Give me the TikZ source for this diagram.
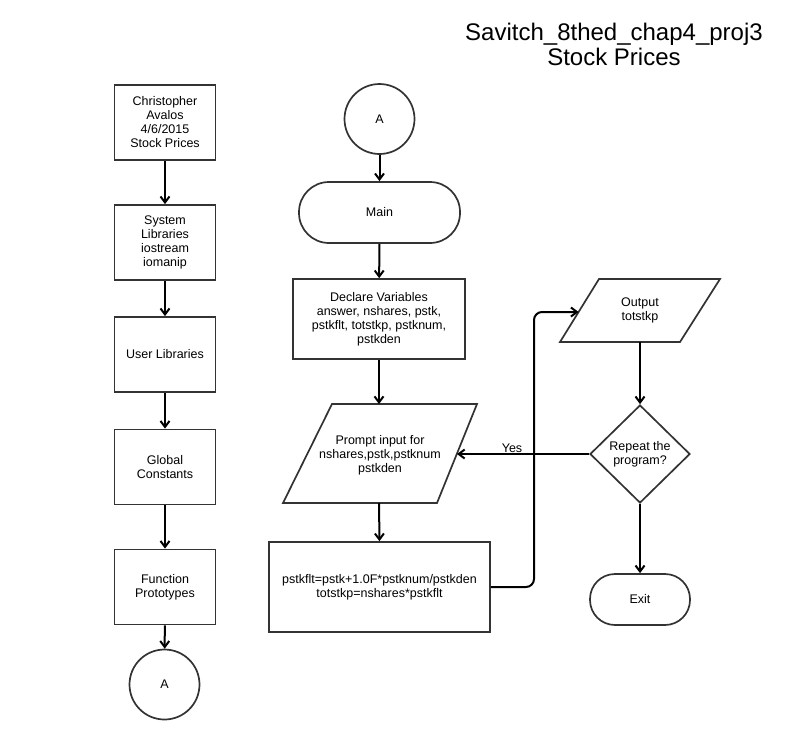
\documentclass[tikz,border=0pt]{standalone}
\usepackage{fontspec}
\setmainfont{Liberation Sans}
\usetikzlibrary{arrows.meta,shapes.geometric}
\begin{document}
\begin{tikzpicture}[x=1pt,y=-1pt,
  shapeline/.style={draw=black!80,line width=1.7pt},
  txt/.style={font=\fontsize{12.5}{14}\selectfont,align=center,text=black},
  procbox/.style={shapeline,txt,rectangle,minimum width=101pt,minimum height=75pt,inner sep=0pt},
  termbox/.style={shapeline,txt,rectangle,inner sep=0pt},
  connector/.style={shapeline,txt,circle,minimum size=70pt,inner sep=0pt},
  flow/.style={line width=2pt,draw=black,-{Straight Barb[length=6pt,width=9pt]}}]
\useasboundingbox[fill=white] (0,0) rectangle (798,740);

% title
\node[font=\fontsize{24}{24.5}\selectfont,align=center] (title) at (614,44.5) {Savitch\_8thed\_chap4\_proj3\\Stock Prices};

% left column
\node[procbox] (auth) at (165,122.5) {Christopher\\Avalos\\4/6/2015\\Stock Prices};
\node[procbox] (syslib) at (165,242.5) {System\\Libraries\\iostream\\iomanip};
\node[procbox] (usrlib) at (165,354.5) {User Libraries};
\node[procbox] (glob) at (165,467) {Global\\Constants};
\node[procbox] (func) at (165,587) {Function\\Prototypes};
\node[connector] (aout) at (164.5,684.5) {A};

\draw[flow] (auth) -- (syslib);
\draw[flow] (syslib) -- (usrlib);
\draw[flow] (usrlib) -- (glob);
\draw[flow] (glob) -- (func);
\draw[flow] (func) -- (aout);

% center column
\node[connector] (ain) at (379.5,119) {A};
\node[termbox,minimum width=161pt,minimum height=61pt,rounded corners=30pt] (main) at (379.5,212.5) {Main};
\node[shapeline,txt,rectangle,minimum width=172pt,minimum height=80pt,inner sep=0pt] (decl) at (379,319)
  {Declare Variables\\answer, nshares, pstk,\\pstkflt, totstkp, pstknum,\\pstkden};
% prompt parallelogram
\draw[shapeline] (332,404) -- (477,404) -- (437,503) -- (283,503) -- cycle;
\node[txt] (prompt) at (380,455) {Prompt input for\\nshares,pstk,pstknum\\pstkden};
\coordinate (promptT) at (379,404);
\coordinate (promptB) at (379,503);
\coordinate (promptR) at (457,454);
\node[shapeline,txt,rectangle,minimum width=221pt,minimum height=90pt,inner sep=0pt] (calc) at (379.5,587)
  {pstkflt=pstk+1.0F*pstknum/pstkden\\totstkp=nshares*pstkflt};

\draw[flow] (ain) -- (main);
\draw[flow] (main) -- (decl);
\draw[flow] (decl.south) -- (promptT);
\draw[flow] (promptB) -- (calc.north);

% right column
\draw[shapeline] (599,279) -- (720,279) -- (680,342) -- (560,342) -- cycle;
\node[txt] (output) at (640,310) {Output\\totstkp};
\coordinate (outL) at (578.6,312);
\coordinate (outB) at (640,342);
\node[shapeline,txt,diamond,aspect=1,minimum width=100pt,minimum height=98pt,inner sep=0pt] (rep) at (640,454) {Repeat the\\program?};
\node[termbox,minimum width=100pt,minimum height=51pt,rounded corners=25pt] (exit) at (640,599.5) {Exit};

\draw[flow,rounded corners=8pt] (calc.east) -- (534,587) |- (outL);
\draw[flow] (outB) -- (rep.north);
\draw[flow] (rep.south) -- (exit.north);
\draw[flow] (rep.west) -- (promptR);
\node[txt] (yes) at (512,448) {Yes};
\end{tikzpicture}
\end{document}
